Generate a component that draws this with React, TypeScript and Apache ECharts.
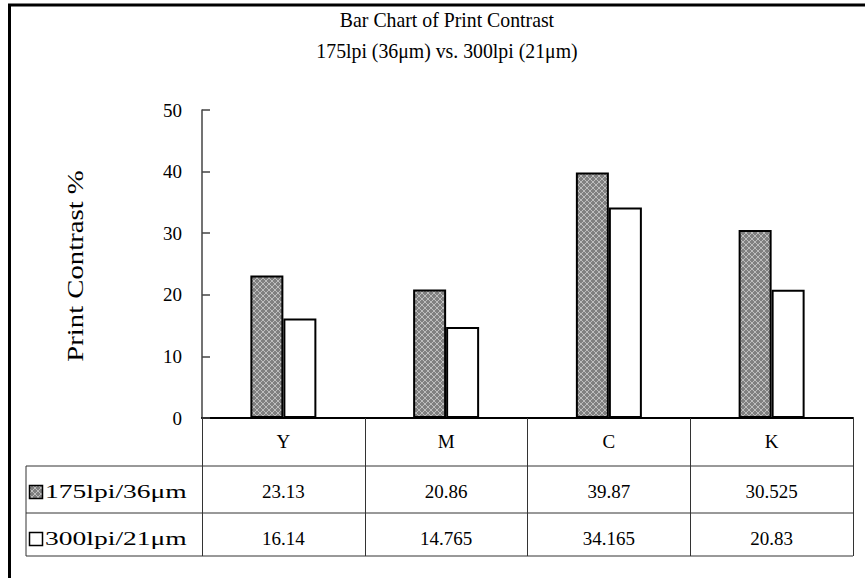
import React, { useEffect, useRef } from "react";
import * as echarts from "echarts";

const categories = ["Y", "M", "C", "K"];
const seriesNames = ["175lpi/36μm", "300lpi/21μm"];
const values175 = [23.13, 20.86, 39.87, 30.525];
const values300 = [16.14, 14.765, 34.165, 20.83];
const titleLines = ["Bar Chart of Print Contrast", "175lpi (36μm) vs. 300lpi (21μm)"];
const yAxisName = "Print Contrast %";

const FONT = "'Liberation Serif', 'Times New Roman', serif";

function makePattern() {
  const c = document.createElement("canvas");
  c.width = 6;
  c.height = 6;
  const ctx = c.getContext("2d")!;
  ctx.fillStyle = "#808080";
  ctx.fillRect(0, 0, 6, 6);
  ctx.fillStyle = "#bdbdbd";
  for (let x = 0; x < 6; x++) {
    for (let y = 0; y < 6; y++) {
      if ((x + y) % 6 === 0 || (x - y + 6) % 6 === 3) ctx.fillRect(x, y, 1, 1);
    }
  }
  return { image: c, repeat: "repeat" as const };
}

export default function App() {
  const ref = useRef<HTMLDivElement>(null);
  useEffect(() => {
    document.body.style.margin = "0";
    const chart = echarts.init(ref.current!, null, { renderer: "svg" });
    const pattern = makePattern();
    const lineStyle = { stroke: "#333", lineWidth: 1 };
    const txt = { fontSize: 19, fontFamily: FONT, color: "#000" };
    chart.setOption({
      animation: false,
      backgroundColor: "#fff",
      grid: { left: 202, right: 12, top: 110, bottom: 160, containLabel: false },
      xAxis: {
        type: "category",
        data: categories,
        axisLine: { lineStyle: { color: "#000", width: 2 } },
        axisTick: {
          show: true,
          alignWithLabel: false,
          interval: 0,
          length: 138,
          lineStyle: { color: "#333", width: 1 },
        },
        axisLabel: {
          interval: 0,
          margin: 0,
          color: "#000",
          formatter: (v: string, i: number) =>
            `{a|${v}}\n{b|${values175[i]}}\n{d|${values300[i]}}`,
          rich: {
            a: { ...txt, lineHeight: 46 },
            b: { ...txt, lineHeight: 54 },
            d: { ...txt, lineHeight: 40 },
          },
        },
      },
      yAxis: {
        type: "value",
        min: 0,
        max: 50,
        interval: 10,
        axisLine: { show: true, lineStyle: { color: "#444", width: 1.5 } },
        axisTick: { show: true, inside: true, length: 8, lineStyle: { color: "#444", width: 1.5 } },
        splitLine: { show: false },
        axisLabel: { fontSize: 19, fontFamily: FONT, color: "#000", margin: 20 },
      },
      series: [
        {
          name: seriesNames[0],
          type: "bar",
          data: values175,
          barWidth: 33,
          barGap: "0%",
          itemStyle: { color: pattern, borderColor: "#000", borderWidth: 2 },
        },
        {
          name: seriesNames[1],
          type: "bar",
          data: values300,
          barWidth: 33,
          barGap: "0%",
          itemStyle: { color: "#fff", borderColor: "#000", borderWidth: 2 },
        },
      ],
      graphic: [
        { type: "line", shape: { x1: 8, y1: 5, x2: 865, y2: 5 }, style: { stroke: "#000", lineWidth: 3 } },
        { type: "line", shape: { x1: 9.5, y1: 5, x2: 9.5, y2: 578 }, style: { stroke: "#000", lineWidth: 3 } },
        {
          type: "text",
          x: 447,
          y: 20,
          scaleX: 0.9,
          style: { text: titleLines[0], font: `22px ${FONT}`, fill: "#000", align: "center", verticalAlign: "middle" },
        },
        {
          type: "text",
          x: 447,
          y: 51,
          scaleX: 0.9,
          style: { text: titleLines[1], font: `22px ${FONT}`, fill: "#000", align: "center", verticalAlign: "middle" },
        },
        {
          type: "text",
          x: 75,
          y: 266,
          rotation: Math.PI / 2,
          scaleX: 1.25,
          style: { text: yAxisName, font: `23px ${FONT}`, fill: "#000", align: "center", verticalAlign: "middle" },
        },
        { type: "line", shape: { x1: 26, y1: 466, x2: 853, y2: 466 }, style: lineStyle },
        { type: "line", shape: { x1: 26, y1: 513, x2: 853, y2: 513 }, style: lineStyle },
        { type: "line", shape: { x1: 26, y1: 556, x2: 853, y2: 556 }, style: lineStyle },
        { type: "line", shape: { x1: 26, y1: 466, x2: 26, y2: 556 }, style: lineStyle },
        {
          type: "rect",
          shape: { x: 29.5, y: 485.5, width: 13, height: 13 },
          style: { fill: pattern, stroke: "#000", lineWidth: 1.5 },
        },
        {
          type: "rect",
          shape: { x: 29.5, y: 532.5, width: 13, height: 13 },
          style: { fill: "#fff", stroke: "#000", lineWidth: 1.5 },
        },
        {
          type: "text",
          x: 45,
          y: 492,
          scaleX: 1.45,
          style: { text: seriesNames[0], font: `19px ${FONT}`, fill: "#000", verticalAlign: "middle" },
        },
        {
          type: "text",
          x: 45,
          y: 539,
          scaleX: 1.45,
          style: { text: seriesNames[1], font: `19px ${FONT}`, fill: "#000", verticalAlign: "middle" },
        },
      ],
    });
    return () => chart.dispose();
  }, []);
  return <div ref={ref} style={{ width: 865, height: 578 }} />;
}
